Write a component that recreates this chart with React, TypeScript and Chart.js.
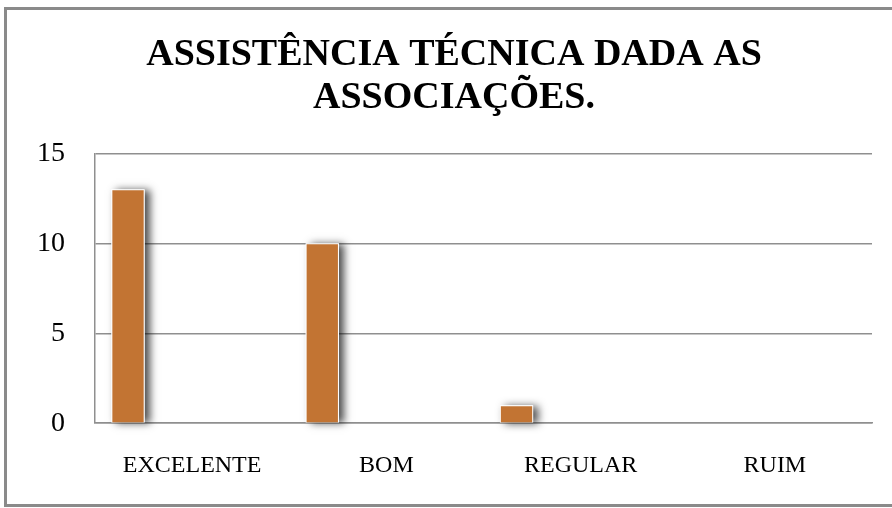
import React, { useEffect, useRef } from "react";
import { Chart, registerables } from "chart.js";
Chart.register(...registerables);

const categories = ["EXCELENTE", "BOM", "REGULAR", "RUIM"];
const values = [13, 10, 1, 0];
const emptySeriesA = [null, null, null, null];
const emptySeriesB = [null, null, null, null];
const yTickValues = [0, 5, 10, 15];
const titleLines = ["ASSISTÊNCIA TÉCNICA DADA AS", "ASSOCIAÇÕES."];

const shadowPlugin = {
  id: "barShadow",
  beforeDatasetsDraw(chart: any) {
    const c = chart.ctx;
    const meta = chart.getDatasetMeta(0);
    meta.data.forEach((bar: any, i: number) => {
      if (!values[i]) return;
      const { x, y, base, width } = bar.getProps(["x", "y", "base", "width"], true);
      c.save();
      c.shadowColor = "rgba(0,0,0,0.7)";
      c.shadowBlur = 8;
      c.shadowOffsetX = 5;
      c.shadowOffsetY = 1;
      c.fillStyle = "#ffffff";
      c.fillRect(x - width / 2, y, width, base - y);
      c.restore();
    });
  },
};

export default function App() {
  const ref = useRef<HTMLCanvasElement>(null);
  useEffect(() => {
    if (!ref.current) return;
    const chart = new Chart(ref.current, {
      type: "bar",
      data: {
        labels: categories,
        datasets: [
          {
            label: "Série 1",
            data: values,
            backgroundColor: "#C27433",
            borderColor: "#ffffff",
            borderWidth: 1,
            categoryPercentage: 0.99,
            barPercentage: 0.52,
          },
          { label: "Série 2", data: emptySeriesA, categoryPercentage: 0.99, barPercentage: 0.52 },
          { label: "Série 3", data: emptySeriesB, categoryPercentage: 0.99, barPercentage: 0.52 },
        ],
      },
      options: {
        animation: false,
        responsive: false,
        layout: { padding: { left: 36, right: 20, top: 0, bottom: 0 } },
        plugins: {
          legend: { display: false },
          tooltip: { enabled: false },
          title: {
            display: true,
            text: titleLines,
            color: "#000",
            font: { family: "'Liberation Serif', 'Times New Roman', serif", size: 38, weight: "bold", lineHeight: 1.15 },
            padding: { top: 33, bottom: 33 },
          },
        },
        scales: {
          x: {
            grid: { display: false, drawTicks: false },
            border: { display: true, color: "#8f8f8f", width: 1.5 },
            ticks: {
              color: "#000",
              padding: 28,
              font: { family: "'Liberation Serif', 'Times New Roman', serif", size: 24 },
            },
          },
          y: {
            min: 0,
            max: 15,
            afterBuildTicks: (axis: any) => {
              axis.ticks = yTickValues.map((v) => ({ value: v }));
            },
            afterFit: (scale: any) => {
              scale.width = 59;
            },
            grid: { color: "#8f8f8f", lineWidth: 1.5, drawTicks: false },
            border: { display: true, color: "#8f8f8f", width: 1.5 },
            ticks: {
              color: "#000",
              padding: 30,
              font: { family: "'Liberation Serif', 'Times New Roman', serif", size: 28 },
            },
          },
        },
      },
      plugins: [shadowPlugin],
    });
    return () => chart.destroy();
  }, []);
  return (
    <div style={{ position: "fixed", left: 0, top: 0, width: 892, height: 508, overflow: "hidden", background: "#fff" }}>
      <div
        style={{
          position: "absolute",
          left: 4,
          top: 7,
          width: 892,
          height: 494,
          border: "3px solid #8a8a8a",
        }}
      />
      <canvas ref={ref} width={892} height={508} style={{ position: "absolute", left: 0, top: 0 }} />
    </div>
  );
}
